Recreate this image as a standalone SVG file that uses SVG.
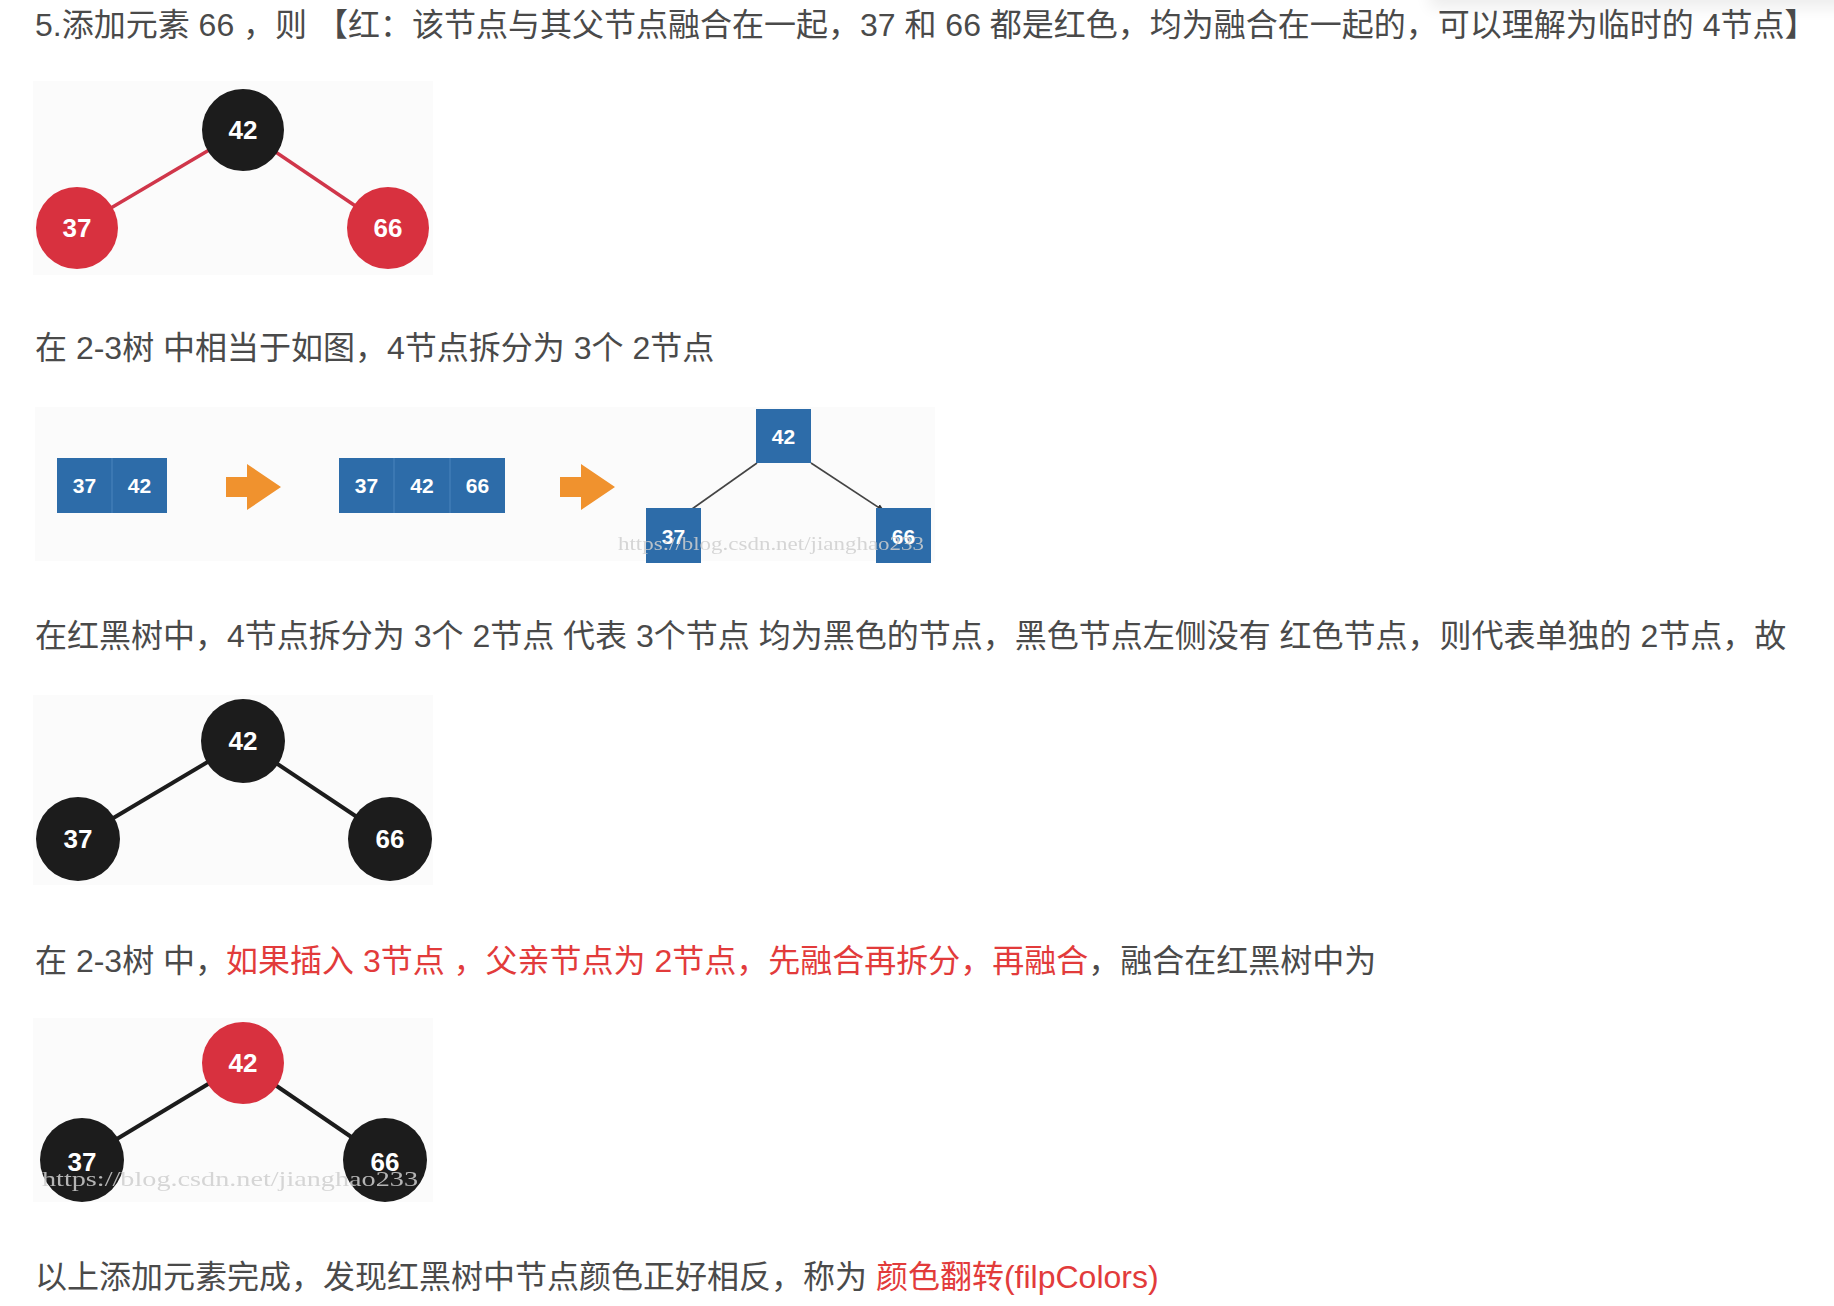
<svg xmlns="http://www.w3.org/2000/svg" width="1834" height="1306" viewBox="0 0 1834 1306">
<defs>
<style>
.t{font-family:'Liberation Sans','Noto Sans CJK SC',sans-serif;font-size:32px;fill:#4a4a4a}
.r{fill:#e23b3b}
.bg{fill:#fbfbfb}
.nl{font-family:'Liberation Sans',Arial,sans-serif;font-size:26px;font-weight:bold;fill:#ffffff;text-anchor:middle}
.bl{font-family:'Liberation Sans',Arial,sans-serif;font-size:21px;font-weight:bold;fill:#ffffff;text-anchor:middle}
.red{fill:#d8313f}
.blk{fill:#1c1c1c}
.box{fill:#2d6ca9}
.div{stroke:#4a84bd;stroke-width:1}
.arrow{fill:#f0922e}
.eR{stroke:#d0364a;stroke-width:3.5}
.eB{stroke:#1c1c1c;stroke-width:4}
.eT{stroke:#444;stroke-width:1.6}
.wm{font-family:'Liberation Serif','Times New Roman',serif;fill:#cfcfcf;opacity:0.85}
</style>
<marker id="ah" viewBox="0 0 10 10" refX="9" refY="5" markerWidth="5" markerHeight="5" orient="auto">
<path d="M0,1 L10,5 L0,9 z" fill="#333"/>
</marker>
<filter id="blur" x="-20%" y="-200%" width="140%" height="500%"><feGaussianBlur stdDeviation="8"/></filter>
</defs>
<rect width="1834" height="1306" fill="#ffffff"/>
<rect x="1430" y="-22" width="460" height="30" fill="#000" opacity="0.07" filter="url(#blur)"/>

<!-- text lines -->
<text class="t" x="35" y="36">5.添加元素 66 ，则 【红：该节点与其父节点融合在一起，37 和 66 都是红色，均为融合在一起的，可以理解为临时的 4节点】</text>
<text class="t" x="35" y="359">在 2-3树 中相当于如图，4节点拆分为 3个 2节点</text>
<text class="t" x="35" y="647">在红黑树中，4节点拆分为 3个 2节点 代表 3个节点 均为黑色的节点，黑色节点左侧没有 红色节点，则代表单独的 2节点，故</text>
<text class="t" x="35" y="972">在 2-3树 中，<tspan class="r" x="226">如果插入 3节点 ，父亲节点为 2节点，先融合再拆分，再融合</tspan><tspan>，融合在红黑树中为</tspan></text>
<text class="t" x="35" y="1288">以上添加元素完成，发现红黑树中节点颜色正好相反，称为 <tspan class="r">颜色翻转(filpColors)</tspan></text>

<!-- Diagram 1 -->
<rect class="bg" x="33" y="81" width="400" height="194"/>
<g id="d1-edges">
<line class="eR" x1="243" y1="130" x2="77" y2="228"/>
<line class="eR" x1="243" y1="130" x2="388" y2="228"/>
</g>
<g id="d1-n42"><circle class="blk" cx="243" cy="130" r="41"/><text class="nl" x="243" y="139">42</text></g>
<g id="d1-n37"><circle class="red" cx="77" cy="228" r="41"/><text class="nl" x="77" y="237">37</text></g>
<g id="d1-n66"><circle class="red" cx="388" cy="228" r="41"/><text class="nl" x="388" y="237">66</text></g>

<!-- Diagram 2 -->
<rect class="bg" x="35" y="407" width="900" height="154"/>
<g id="d2-box1">
<rect class="box" x="57" y="458" width="110" height="55"/>
<line class="div" x1="112" y1="458" x2="112" y2="513"/>
<text class="bl" x="84.5" y="493">37</text><text class="bl" x="139.5" y="493">42</text>
</g>
<g id="d2-arrow1"><path class="arrow" d="M226,477 L247,477 L247,464 L281,487 L247,510 L247,497 L226,497 z"/></g>
<g id="d2-box2">
<rect class="box" x="339" y="458" width="166" height="55"/>
<line class="div" x1="394" y1="458" x2="394" y2="513"/>
<line class="div" x1="450" y1="458" x2="450" y2="513"/>
<text class="bl" x="366.5" y="493">37</text><text class="bl" x="422" y="493">42</text><text class="bl" x="477.5" y="493">66</text>
</g>
<g id="d2-arrow2"><path class="arrow" d="M560,477 L581,477 L581,464 L615,487 L581,510 L581,497 L560,497 z"/></g>
<g id="d2-edges">
<line class="eT" x1="757" y1="463" x2="692" y2="509"/>
<line class="eT" x1="811" y1="463" x2="884" y2="511" marker-end="url(#ah)"/>
</g>
<g id="d2-n42"><rect class="box" x="756" y="409" width="55" height="54"/><text class="bl" x="783.5" y="444">42</text></g>
<g id="d2-n37"><rect class="box" x="646" y="508" width="55" height="55"/><text class="bl" x="673.5" y="544">37</text></g>
<g id="d2-n66"><rect class="box" x="876" y="508" width="55" height="55"/><text class="bl" x="903.5" y="544">66</text></g>
<text class="wm" x="618" y="550" font-size="18" textLength="306" lengthAdjust="spacingAndGlyphs">https://blog.csdn.net/jianghao233</text>

<!-- Diagram 3 -->
<rect class="bg" x="33" y="695" width="400" height="190"/>
<g id="d3-edges">
<line class="eB" x1="243" y1="741" x2="78" y2="839"/>
<line class="eB" x1="243" y1="741" x2="390" y2="839"/>
</g>
<g id="d3-n42"><circle class="blk" cx="243" cy="741" r="42"/><text class="nl" x="243" y="750">42</text></g>
<g id="d3-n37"><circle class="blk" cx="78" cy="839" r="42"/><text class="nl" x="78" y="848">37</text></g>
<g id="d3-n66"><circle class="blk" cx="390" cy="839" r="42"/><text class="nl" x="390" y="848">66</text></g>

<!-- Diagram 4 -->
<rect class="bg" x="33" y="1018" width="400" height="184"/>
<g id="d4-edges">
<line class="eB" x1="243" y1="1063" x2="82" y2="1160"/>
<line class="eB" x1="243" y1="1063" x2="385" y2="1160"/>
</g>
<g id="d4-n42"><circle class="red" cx="243" cy="1063" r="41"/><text class="nl" x="243" y="1072">42</text></g>
<g id="d4-n37"><circle class="blk" cx="82" cy="1160" r="42"/><text class="nl" x="82" y="1171">37</text></g>
<g id="d4-n66"><circle class="blk" cx="385" cy="1160" r="42"/><text class="nl" x="385" y="1171">66</text></g>
<text class="wm" x="42" y="1186" font-size="22" textLength="376" lengthAdjust="spacingAndGlyphs">https://blog.csdn.net/jianghao233</text>
</svg>
